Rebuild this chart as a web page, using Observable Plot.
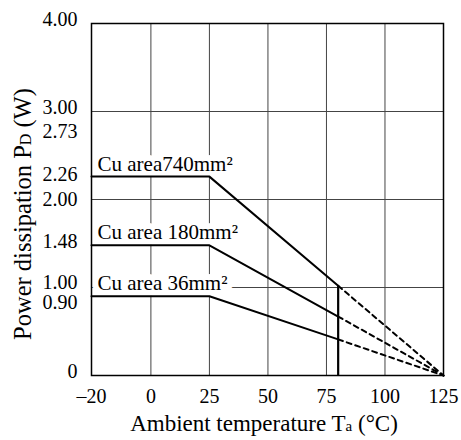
<!DOCTYPE html>
<html><head><meta charset="utf-8">
<script src="https://cdn.jsdelivr.net/npm/d3@7"></script>
<script src="https://cdn.jsdelivr.net/npm/@observablehq/plot@0.6"></script>
<style>body{margin:0;background:#fff} svg{display:block}</style>
</head><body><div id="chart"></div>
<script>
const seriesLabels = ["Cu area740mm²", "Cu area 180mm²", "Cu area 36mm²"];
const flatPower = [2.26, 1.48, 0.90];
const powerAt80 = [1.02, 0.67, 0.41];
const tempStart = -20, tempKnee = 25, tempLimit = 80, tempZero = 125;
const xTicks = [-20, 0, 25, 50, 75, 100, 125];
const yTicksUpper = [0, 1.48, 2.73, 3.00, 4.00];
const yTicksA = [1.00];
const yTicksB = [2.00];
const yTicksC = [2.26];
const yTicksLower = [0.90];
const xGrid = [0, 25, 50, 75, 100];
const yGrid = [1, 2, 3];

const solid = seriesLabels.flatMap((s, i) => [
  {s, t: tempStart, p: flatPower[i]},
  {s, t: tempKnee, p: flatPower[i]},
  {s, t: tempLimit, p: powerAt80[i]}
]);
const dashed = seriesLabels.flatMap((s, i) => [
  {s, t: tempLimit, p: powerAt80[i]},
  {s, t: tempZero, p: 0}
]);
const labels = seriesLabels.map((s, i) => ({s, t: tempStart, p: flatPower[i]}));

const font = "'Liberation Serif', 'Times New Roman', serif";
const yFmt = d => d === 0 ? "0" : d.toFixed(2);
const yAxisOpts = {tickSize: 0, tickPadding: 14, label: null, fontSize: 20, tickFormat: yFmt};
const chart = Plot.plot({
  width: 461, height: 440,
  marginLeft: 91, marginRight: 18, marginTop: 23, marginBottom: 65,
  style: {fontFamily: font, fontSize: "20px", color: "#000", background: "#fff"},
  x: {type: "linear", domain: [-20, 0, 125], range: [91, 150.4, 443]},
  y: {domain: [0, 4]},
  marks: [
    Plot.gridX(xGrid, {stroke: "#444", strokeOpacity: 1}),
    Plot.gridY(yGrid, {stroke: "#444", strokeOpacity: 1}),
    Plot.text(labels, {x: "t", y: "p", text: "s", textAnchor: "start", lineAnchor: "bottom",
      dx: 6, dy: -6, fontSize: 21, stroke: "white", strokeWidth: 12, fill: "black"}),
    Plot.line(solid, {x: "t", y: "p", z: "s", stroke: "black", strokeWidth: 2}),
    Plot.line(dashed, {x: "t", y: "p", z: "s", stroke: "black", strokeWidth: 2, strokeDasharray: "5,4"}),
    Plot.ruleX([tempLimit], {y1: 0, y2: powerAt80[0], stroke: "black", strokeWidth: 2.2}),
    Plot.frame({stroke: "black", strokeWidth: 1.5}),
    Plot.axisX(xTicks, {tickSize: 0, tickPadding: 13, label: null, fontSize: 20,
      tickFormat: d => d < 0 ? "\u2013" + Math.abs(d) : String(d)}),
    Plot.axisY(yTicksUpper, {...yAxisOpts, dy: -4}),
    Plot.axisY(yTicksA, {...yAxisOpts, dy: -5}),
    Plot.axisY(yTicksB, {...yAxisOpts, dy: 0}),
    Plot.axisY(yTicksC, {...yAxisOpts, dy: -2}),
    Plot.axisY(yTicksLower, {...yAxisOpts, dy: 6})
  ]
});
document.getElementById("chart").append(chart);

const svg = d3.select(chart);
const xs = chart.scale("x"), ys = chart.scale("y");
const xl = svg.append("text")
  .attr("x", (xs.apply(tempStart) + xs.apply(tempZero)) / 2 - 3)
  .attr("y", 431)
  .attr("text-anchor", "middle")
  .attr("font-family", font).attr("font-size", 23).attr("fill", "black");
xl.append("tspan").text("Ambient temperature T");
xl.append("tspan").attr("font-size", 15).text("a");
xl.append("tspan").text(" (°C)");

const yl = svg.append("text")
  .attr("transform", `translate(31,${(ys.apply(0) + ys.apply(4)) / 2 + 15}) rotate(-90)`)
  .attr("text-anchor", "middle")
  .attr("font-family", font).attr("font-size", 24.5).attr("fill", "black");
yl.append("tspan").text("Power dissipation P");
yl.append("tspan").attr("font-size", 16).text("D");
yl.append("tspan").text(" (W)");
</script>
</body></html>
